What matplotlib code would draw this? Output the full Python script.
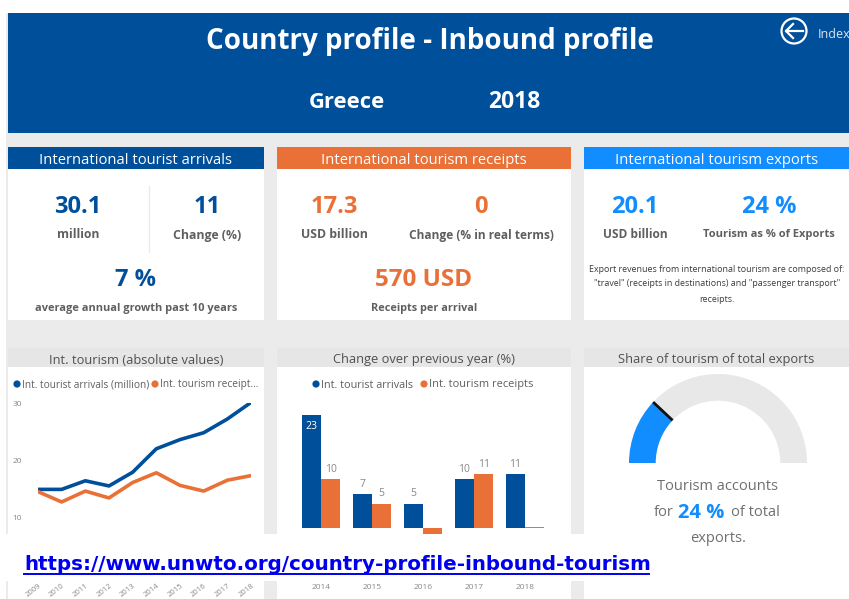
import matplotlib
matplotlib.use('Agg')
import matplotlib.pyplot as plt
from matplotlib.patches import Rectangle, Circle
from math import cos, sin, pi

years_line = ['2009', '2010', '2011', '2012', '2013', '2014', '2015', '2016', '2017', '2018']
arrivals = [14.9, 14.9, 16.4, 15.5, 17.9, 22.0, 23.6, 24.8, 27.2, 30.1]
receipts = [14.5, 12.7, 14.6, 13.4, 16.1, 17.8, 15.6, 14.6, 16.5, 17.3]

years_bar = ['2014', '2015', '2016', '2017', '2018']
change_arrivals = [23, 7, 5, 10, 11]
change_receipts = [10, 5, -3, 11, 0.2]
labels_arrivals = ['23', '7', '5', '10', '11']
labels_receipts = ['10', '5', '', '11', '']

tourism_share = 24

BLUE = '#004F9B'
ORANGE = '#E97036'
LIGHT = '#118DFF'
GREY = '#EBEBEB'
TXT = '#5F5F5F'
SOFT = '#8A8886'
W, H = 849, 599

plt.rcParams['font.family'] = ['Open Sans', 'DejaVu Sans']
fig = plt.figure(figsize=(W / 100, H / 100), dpi=100, facecolor='white')


def px_axes(x0, y0, x1, y1, **kw):
    return fig.add_axes([x0 / W, 1 - y1 / H, (x1 - x0) / W, (y1 - y0) / H], **kw)


bg = px_axes(0, 0, W, H)
bg.set_xlim(0, W)
bg.set_ylim(H, 0)
bg.axis('off')


def box(x, y, w, h, c, z=1):
    bg.add_patch(Rectangle((x, y), w, h, fc=c, ec='none', zorder=z))


def txt(x, y, s, size, color=TXT, weight='normal', ha='center', z=5, a=None):
    (a or bg).text(x, y + 2, s, fontsize=size, color=color, fontweight=weight, ha=ha, va='center', zorder=z)


box(6, 13, 843, 586, GREY)
box(8, 13, 841, 120, BLUE)
txt(430, 39, 'Country profile - Inbound profile', 20, 'white', 'bold')
txt(347, 100, 'Greece', 15.8, 'white', 'bold')
txt(514, 100, '2018', 16.5, 'white', 'bold')
bg.add_patch(Circle((794, 31), 12.5, fc='none', ec='white', lw=1.6, zorder=5))
bg.plot([786, 803], [31, 31], color='white', lw=1.6, zorder=6)
bg.plot([793, 786, 793], [24, 31, 38], color='white', lw=1.6, zorder=6)
txt(818, 32, 'Index', 9, '#DDE6F2', ha='left')

# top cards
for x, w, c, t in [(8, 256, BLUE, 'International tourist arrivals'),
                   (277, 294, ORANGE, 'International tourism receipts'),
                   (584, 265, LIGHT, 'International tourism exports')]:
    box(x, 169, w, 151, 'white')
    box(x, 147, w, 22, c)
    txt(x + w / 2, 158, t, 10.6, 'white')

bg.plot([149, 149], [186, 252], color=GREY, lw=1, zorder=3)
txt(78, 205, '30.1', 17, BLUE, 'bold')
txt(78, 233, 'million', 8.7, TXT, 'bold')
txt(207, 205, '11', 17, BLUE, 'bold')
txt(207, 233, 'Change (%)', 8.8, TXT, 'bold')
txt(136, 278, '7 %', 17, BLUE, 'bold')
txt(136, 307, 'average annual growth past 10 years', 7.9, TXT, 'bold')

txt(334, 205, '17.3', 17, ORANGE, 'bold')
txt(334, 233, 'USD billion', 8.8, TXT, 'bold')
txt(481, 205, '0', 17, ORANGE, 'bold')
txt(481, 233, 'Change (% in real terms)', 8.6, TXT, 'bold')
txt(424, 278, '570 USD', 17.5, ORANGE, 'bold')
txt(424, 307, 'Receipts per arrival', 7.8, TXT, 'bold')

txt(635, 205, '20.1', 17, LIGHT, 'bold')
txt(635, 233, 'USD billion', 8.6, TXT, 'bold')
txt(769, 205, '24 %', 17, LIGHT, 'bold')
txt(769, 233, 'Tourism as % of Exports', 8, TXT, 'bold')
txt(717, 267, 'Export revenues from international tourism are composed of:', 6.4, '#3C3C3C')
txt(717, 282, '"travel" (receipts in destinations) and "passenger transport"', 6.4, '#3C3C3C')
txt(717, 298, 'receipts.', 6.4, '#3C3C3C')

# bottom cards
for x, w, t in [(8, 256, 'Int. tourism (absolute values)'),
                (277, 294, 'Change over previous year (%)'),
                (584, 265, 'Share of tourism of total exports')]:
    box(x, 367, w, 232, 'white')
    bg.add_patch(Rectangle((x, 348), w, 19, fc='#E6E6E6', ec='none', zorder=1.5))
    txt(x + w / 2, 358, t, 9.3, '#505050')

# legends of the two charts
for x, c, t, s in [(17, BLUE, 'Int. tourist arrivals (million)', 7.3),
                   (155, ORANGE, 'Int. tourism receipt...', 7.3),
                   (316, BLUE, 'Int. tourist arrivals', 7.8),
                   (424, ORANGE, 'Int. tourism receipts', 7.9)]:
    bg.add_patch(Circle((x, 384), 3.6, fc=c, ec='none', zorder=5))
    txt(x + 5, 383, t, s, TXT, ha='left')

# line chart
ax1 = px_axes(38, 403, 251, 578, facecolor='none')
ax1.plot(range(10), arrivals, color=BLUE, lw=2.6, solid_capstyle='round')
ax1.plot(range(10), receipts, color=ORANGE, lw=2.6, solid_capstyle='round')
ax1.set_xlim(0, 9)
ax1.set_ylim(30 - 175 / 5.72, 30)
ax1.set_yticks([10, 20, 30])
ax1.set_xticks(range(10))
ax1.set_xticklabels(years_line, rotation=38, ha='right', rotation_mode='anchor', fontsize=5.5, color=SOFT)
ax1.tick_params(axis='x', length=0, pad=3)
ax1.tick_params(axis='y', length=0, labelsize=6, labelcolor=SOFT, pad=11.5)
for s in ax1.spines.values():
    s.set_visible(False)

# bar chart
ax2 = px_axes(296, 400, 550, 580, facecolor='none')
pos = list(range(5))
b1 = ax2.bar([p - 0.19 for p in pos], change_arrivals, width=0.38, color=BLUE)
b2 = ax2.bar([p + 0.19 for p in pos], change_receipts, width=0.38, color=ORANGE)
ax2.set_xlim(-0.49, 4.49)
ax2.set_ylim(-(580 - 528.3) / 4.93, (528.3 - 400) / 4.93)
ax2.set_xticks(pos)
ax2.set_xticklabels(years_bar, fontsize=6, color=SOFT)
ax2.set_yticks([])
ax2.tick_params(axis='x', length=0, pad=3)
for s in ax2.spines.values():
    s.set_visible(False)
ax2.bar_label(b1, labels=['', *labels_arrivals[1:]], fontsize=7.5, color=SOFT, padding=3)
ax2.bar_label(b2, labels=labels_receipts, fontsize=7.5, color=SOFT, padding=3)
ax2.text(pos[0] - 0.19, change_arrivals[0] - 2.4, labels_arrivals[0], fontsize=7.5, color='white',
         ha='center', va='center')

# gauge
ax3 = px_axes(629, 374, 807, 552, facecolor='none')
ax3.pie([tourism_share, 100 - tourism_share, 100], colors=[LIGHT, '#E8E8E8', 'none'],
        startangle=180, counterclock=False, radius=1, wedgeprops=dict(width=0.30, linewidth=0))
ax3.set_xlim(-1, 1)
ax3.set_ylim(-1, 1)
ang = pi * (1 - tourism_share / 100)
ax3.plot([0.70 * cos(ang), cos(ang)], [0.70 * sin(ang), sin(ang)], color='#111111', lw=2,
         solid_capstyle='butt')

# white band with link, sits on top of the charts
top = px_axes(0, 0, W, H, facecolor='none')
top.set_xlim(0, W)
top.set_ylim(H, 0)
top.axis('off')
top.add_patch(Rectangle((0, 534), 584, 47, fc='white', ec='none'))
top.text(24, 565, 'https://www.unwto.org/country-profile-inbound-tourism', fontsize=14.3,
         color='#0000EE', fontweight='bold', family='DejaVu Sans', va='center', ha='left')
top.plot([24, 649], [574, 574], color='#0000EE', lw=1.4)

GAUGE_TXT = '#6F6F6F'
txt(718, 484, 'Tourism accounts', 10.5, GAUGE_TXT, a=top)
txt(654, 511, 'for', 10.5, GAUGE_TXT, ha='left', a=top)
txt(678, 511, '24 %', 14.5, LIGHT, 'bold', ha='left', a=top)
txt(731, 511, 'of total', 10.5, GAUGE_TXT, ha='left', a=top)
txt(718, 537, 'exports.', 10.5, GAUGE_TXT, a=top)

fig.savefig('out.png', dpi=100)
